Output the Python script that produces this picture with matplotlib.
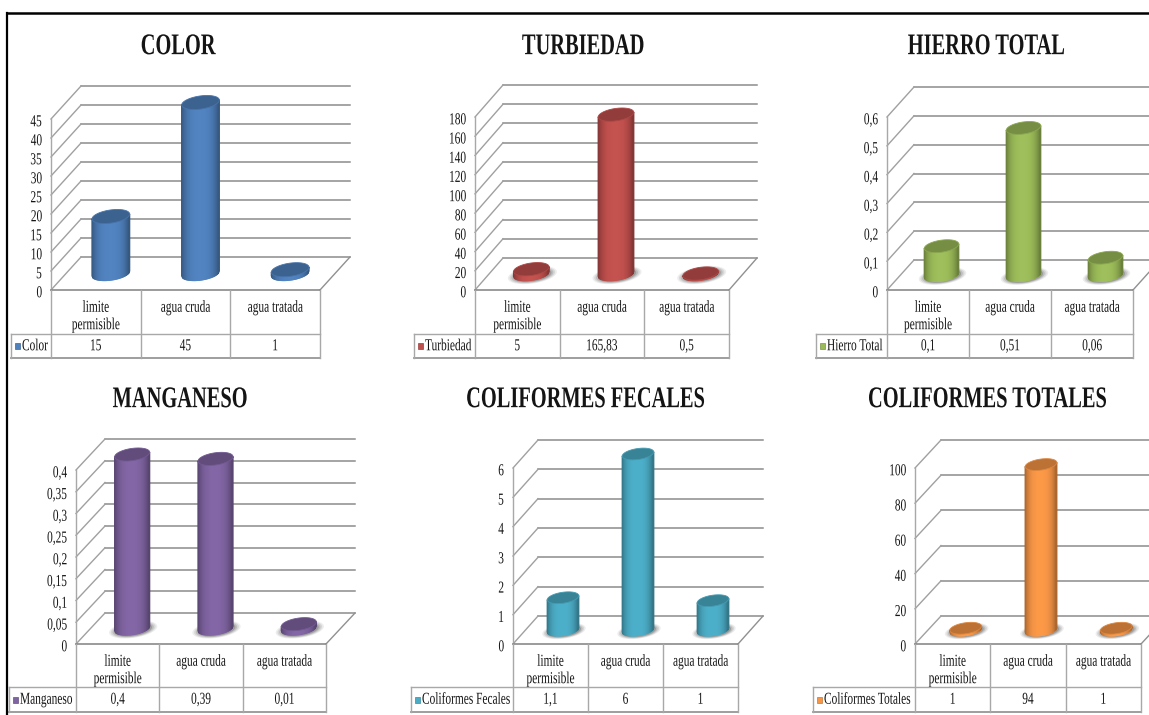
import numpy as np
import matplotlib
matplotlib.use("Agg")
import matplotlib.pyplot as plt
from matplotlib.collections import PolyCollection
from matplotlib.lines import Line2D
from matplotlib.patches import Polygon
from matplotlib.patheffects import AbstractPathEffect
from matplotlib.transforms import Affine2D, IdentityTransform

W, H = 1149, 715

categories = [["limite\npermisible", "agua cruda", "agua tratada"]] * 6
titles = ["COLOR", "TURBIEDAD", "HIERRO TOTAL", "MANGANESO", "COLIFORMES FECALES", "COLIFORMES TOTALES"]
series = ["Color", "Turbiedad", "Hierro Total", "Manganeso", "Coliformes Fecales", "Coliformes Totales"]

color_vals = [15, 45, 1]
turbiedad_vals = [5, 165.83, 0.5]
hierro_vals = [0.1, 0.51, 0.06]
manganeso_vals = [0.4, 0.39, 0.01]
fecales_vals = [1.1, 6, 1]
totales_vals = [1, 94, 1]
all_vals = [color_vals, turbiedad_vals, hierro_vals, manganeso_vals, fecales_vals, totales_vals]

color_ticks = [0, 5, 10, 15, 20, 25, 30, 35, 40, 45]
turbiedad_ticks = [0, 20, 40, 60, 80, 100, 120, 140, 160, 180]
hierro_ticks = [0, 0.1, 0.2, 0.3, 0.4, 0.5, 0.6]
manganeso_ticks = [0, 0.05, 0.1, 0.15, 0.2, 0.25, 0.3, 0.35, 0.4]
fecales_ticks = [0, 1, 2, 3, 4, 5, 6]
totales_ticks = [0, 20, 40, 60, 80, 100]
all_ticks = [color_ticks, turbiedad_ticks, hierro_ticks, manganeso_ticks, fecales_ticks, totales_ticks]

colors = ["#4F81BD", "#C0504D", "#9BBB59", "#8064A2", "#4BACC6", "#F79646"]

# pixel layout: left, right, y0, ytop, depth x, depth y, legend left, title x, title y, row2, bottom
layouts = [
    (51, 320, 290, 119, 30, 33, 11, 178, 45, 334, 358),
    (475, 729, 290, 117, 28, 32, 414, 583, 45, 334, 358),
    (887, 1133, 290, 117, 27, 30, 816, 986, 45, 334, 358),
    (76, 326, 644, 470, 29, 31, 9, 180, 398, 687, 712),
    (513, 738, 644, 468, 25, 28, 411, 585, 398, 687, 712),
    (915, 1141, 644, 468, 26, 28, 813, 987, 398, 687, 712),
]
has_shadow = [False, True, True, True, True, True]

GRID = "#8c8c8c"
TABLE = "#a8a8a8"
FONT = "Liberation Serif"
BODY_SIZE = 8.2
TITLE_SIZE = 14.7


class Tall(AbstractPathEffect):
    # the reference text is narrow and tall, so stretch the glyphs upward around mid cap height
    def __init__(self, sy, dy=0):
        super().__init__()
        self.sy = sy
        self.dy = dy

    def draw_path(self, renderer, gc, tpath, affine, rgbFace=None):
        t = Affine2D().translate(0, -33).scale(1, self.sy).translate(0, 33) + affine
        t = t + Affine2D().translate(0, self.dy)
        renderer.draw_path(gc, tpath, t, rgbFace)


def comma(v):
    return str(v).replace(".", ",")


def shade(base, f):
    rgb = np.array(matplotlib.colors.to_rgb(base)) * f
    return tuple(np.clip(rgb, 0, 1))


def px_text(ax, x, y, s, size=BODY_SIZE, weight="normal", ha="center", va="center", sy=1.47, dy=0, **kw):
    t = ax.text(x, y, s, transform=IdentityTransform(), fontsize=size, fontweight=weight,
                family=FONT, ha=ha, va=va, color="#141414", clip_on=False, **kw)
    t.set_path_effects([Tall(sy, dy)])
    return t


def draw_cylinder(ax, xc, value, dx, dy, a, base, shadow):
    # centre of the cylinder sits half way into the floor depth
    x0, y0 = ax.transData.transform((xc, 0))
    _, y1 = ax.transData.transform((xc, value))
    x0 += dx / 2
    y0 += dy / 2
    y1 += dy / 2
    b = a * 0.35
    k = 0.13

    if shadow:
        for grow, alpha in zip([1.38, 1.28, 1.18, 1.08], [0.10, 0.14, 0.20, 0.30]):
            t = np.linspace(0, 2 * np.pi, 60)
            xs = x0 + 1 + a * grow * np.cos(t)
            ys = y0 - 1 + b * grow * np.sin(t) + k * a * grow * np.cos(t)
            ax.add_patch(Polygon(np.c_[xs, ys], closed=True, fc="#555555", ec="none", alpha=alpha,
                                 transform=IdentityTransform(), zorder=2, clip_on=False))

    n = 36
    edges = np.linspace(-a, a, n + 1)
    front = lambda u: -b * np.sqrt(np.clip(1 - (u / a) ** 2, 0, 1)) + k * u
    strips = []
    fills = []
    for i in range(n):
        u0, u1 = edges[i], edges[i + 1]
        strips.append([(x0 + u0, y0 + front(u0)), (x0 + u1, y0 + front(u1)),
                       (x0 + u1, y1 + front(u1)), (x0 + u0, y1 + front(u0))])
        m = (u0 + u1) / 2 / a
        fills.append(shade(base, 1.02 - 0.36 * abs(m) ** 3))
    coll = PolyCollection(strips, facecolors=fills, edgecolors=fills, linewidths=0.9,
                          transform=IdentityTransform(), zorder=3, clip_on=False)
    ax.add_collection(coll, autolim=False)

    t = np.linspace(0, 2 * np.pi, 80)
    xs = x0 + a * np.cos(t)
    ys = y1 + b * np.sin(t) + k * a * np.cos(t)
    ax.add_patch(Polygon(np.c_[xs, ys], closed=True, fc=shade(base, 0.76), ec=shade(base, 0.9), lw=0.6,
                         transform=IdentityTransform(), zorder=4, clip_on=False))


def draw_panel(fig, i):
    left, right, y0, ytop, dx, dy, leg, tx, ty, row2, bottom = layouts[i]
    ticks = all_ticks[i]
    vals = all_vals[i]
    cats = categories[i]
    base = colors[i]

    ax = fig.add_axes([left / W, 1 - y0 / H, (right - left) / W, (y0 - ytop) / H])
    ax.set_xlim(0, len(vals))
    ax.set_ylim(0, ticks[-1])
    ax.patch.set_alpha(0)
    for s in ax.spines.values():
        s.set_visible(False)
    ax.set_xticks([])
    ax.set_yticks(ticks)
    ax.set_yticklabels([comma(t) for t in ticks], fontsize=BODY_SIZE, family=FONT, color="#141414")
    ax.tick_params(axis="y", length=0, pad=6.5)
    for lab in ax.get_yticklabels():
        lab.set_path_effects([Tall(1.47, -2)])

    back = ax.transData + Affine2D().translate(dx, dy)
    for v in ticks:
        ax.plot([0, len(vals)], [v, v], color=GRID, lw=1.1, transform=back, zorder=1, clip_on=False)
        # side wall
        p = ax.transData.transform((0, v))
        ax.plot([p[0], p[0] + dx], [p[1], p[1] + dy], color="#a0a0a0", lw=1.0,
                transform=IdentityTransform(), zorder=1, clip_on=False)
    ax.plot([0, 0], [0, ticks[-1]], color="#a8a8a8", lw=1.0, zorder=1, clip_on=False)

    # floor, right edge
    p = ax.transData.transform((len(vals), 0))
    ax.plot([p[0], p[0] + dx], [p[1], p[1] + dy], color="#909090", lw=1.0,
            transform=IdentityTransform(), zorder=1, clip_on=False)

    a = 0.42 * (right - left) / len(vals) / 2
    for j, v in enumerate(vals):
        draw_cylinder(ax, j + 0.5, v, dx, dy, a, base, has_shadow[i])

    # data table under the plot, table rows are laid out in pixels
    def hline(x0, x1, yp, c=TABLE, lw=1.0):
        ax.plot([x0, x1], [H - yp, H - yp], color=c, lw=lw, transform=IdentityTransform(),
                zorder=1, clip_on=False)

    def vline(xp, y_a, y_b):
        ax.plot([xp, xp], [H - y_a, H - y_b], color=TABLE, lw=1.0, transform=IdentityTransform(),
                zorder=1, clip_on=False)

    hline(left, right, y0, "#808080", 1.1)
    hline(leg, right, row2)
    hline(leg, right, bottom, "#969696", 1.3)
    vline(leg, row2, bottom)
    n = len(vals)
    for j in range(n + 1):
        vline(left + (right - left) * j / n, y0, bottom)

    ymid = H - (row2 + bottom) / 2
    for j, (c, v) in enumerate(zip(cats, vals)):
        xc = left + (right - left) * (j + 0.5) / n
        px_text(ax, xc, H - (y0 + 12), c, va="top", linespacing=2.2, dy=-1)
        px_text(ax, xc, ymid, comma(v))

    # legend key + series name
    ax.add_patch(Polygon([(leg + 4, ymid - 3), (leg + 9, ymid - 3), (leg + 9, ymid + 3), (leg + 4, ymid + 3)],
                         closed=True, fc=base, ec=shade(base, 0.8), lw=0.5,
                         transform=IdentityTransform(), clip_on=False))
    px_text(ax, leg + 11, ymid, series[i], ha="left")

    px_text(ax, tx, H - ty, titles[i], size=TITLE_SIZE, weight="bold", sy=1.47, dy=-1)


def main():
    fig = plt.figure(figsize=(W / 100, H / 100), dpi=100, facecolor="white")

    for i in range(len(titles)):
        draw_panel(fig, i)

    # outer black frame, top and left only
    fig.add_artist(Line2D([6.5 / W, 1], [1 - 13 / H, 1 - 13 / H], color="black", lw=1.8,
                          transform=fig.transFigure))
    fig.add_artist(Line2D([7 / W, 7 / W], [1 - 13 / H, 0], color="black", lw=1.6,
                          transform=fig.transFigure))

    fig.savefig("out.png", dpi=100)


if __name__ == "__main__":
    main()
